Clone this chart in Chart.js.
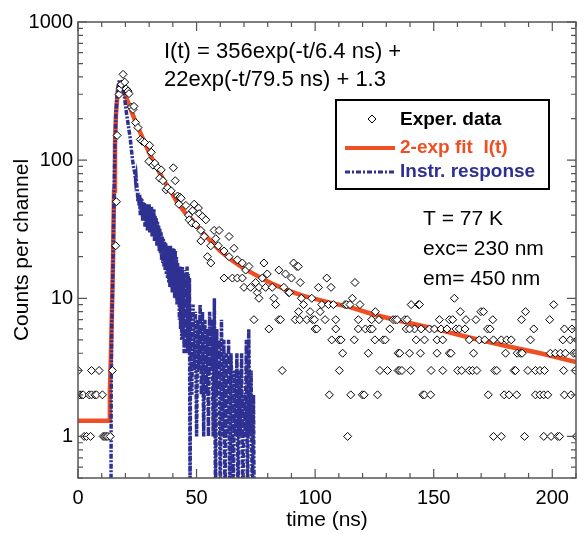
<!DOCTYPE html>
<html>
<head>
<meta charset="utf-8">
<script src="https://cdn.jsdelivr.net/npm/chart.js@4.4.1/dist/chart.umd.min.js"></script>
<style>
  body { margin: 0; background: #ffffff; }
  #wrap { width: 584px; height: 534px; }
</style>
</head>
<body>
<div id="wrap"><canvas id="decayChart" width="584" height="534"></canvas></div>
<script>
// Time-resolved luminescence decay, T = 77 K

// Experimental counts (time in ns, counts per channel)
const expTime = [
    0.1, 0.8, 1.6, 2.2, 2.6, 3.6, 4.7, 5.3, 5.7, 5.7, 7.1, 7.8, 8.9, 10.3, 10.6, 11.3, 11.9, 12.6, 13.6, 14.5,
    15.9, 16.2, 16.5, 17.3, 17.8, 18.3, 19, 19.7, 20.3, 21.1, 21.5, 22.5, 23.2, 23.6, 24.3, 25.3, 26.3, 27.1, 28.1,
    29.9, 30.2, 30.9, 31.6, 32.4, 33.7, 34.4, 35.1, 35.8, 37.1, 37.8, 39.3, 40.2, 41, 42, 42.5, 43, 43.5, 45.5,
    46.6, 46.9, 48, 48.3, 49, 49.7, 50.8, 51.1, 51.8,
    51.8, 52.5, 53.2, 53.9, 54.6, 56, 56, 57.4, 58.1, 59.2, 59.5, 61.6, 61.6, 63.7, 63.7, 65.1, 65.8, 67.2, 67.2,
    69.3, 69.3, 70, 70.7, 72.1, 72.8, 74.2, 74.9, 75.6, 76.3, 76.3, 77.7, 78.4, 79.1, 79.8, 80.5, 81.9, 82.6, 83.3,
    84.7, 84.7, 85.4, 86.1, 86.8, 87.5, 88.9,
    89.1, 90, 90.9, 91.6, 92.3, 92.9, 93, 93.5, 93.7, 94.2, 95.1, 96.5, 97.9, 98.6, 98.9, 99.7, 100, 100.7, 101.4,
    102.1, 102.8, 104.2, 104.9, 105.6, 106, 106.7, 107, 107.7, 108.7, 108.7, 110.1, 110.2, 110.9, 111.6, 112.6,
    113.3, 113.7, 114.7, 115, 115.7, 116.5, 116.8, 118.2, 118.2, 118.9, 119.9, 120.7, 121.2, 122.4, 123.1, 123.8,
    124.1, 125.2, 125.4, 126.3, 126.9, 127.3, 128.7, 129.6, 130.5, 131.5, 132.9, 133.8, 134.6, 135, 135, 135.7,
    135.7, 136.6, 137.8, 138.4, 138.8, 139.8, 140.3, 140.5, 141.9, 142.6, 143.6,
    158.7, 144, 200.6, 161.2, 169.9, 171, 188.7,
    152.4, 156.6, 158, 163.6, 167.8, 174.9, 187, 198.9,
    139.8, 144.7, 148.2, 150.3, 153.1, 155.6, 159.4, 160.8, 163.2, 172.7, 173.8, 192.2, 205.1, 208.3,
    146.1, 151.4, 153.8, 165, 169.2, 171.5, 175.2, 178.5, 180.8, 182.7, 190.8, 204.5, 207.6, 210.5,
    144.4, 151.4, 156.6, 157.3, 166.8, 180.3, 185.2, 186.6, 187.3, 199.2, 201.3, 203.4, 205.5, 209, 210,
    148.9, 153.8, 160.1, 161.8, 165, 166.4, 168.2, 175.7, 176.6, 183.9, 184.5, 189.7, 192.9, 194.8, 196.7, 204.8, 209.7,
    145.4, 146.1, 148.7, 173, 179.7, 181.8, 185, 192.9, 194.8, 196.4, 198.1, 205.1, 207.9,
    175.2, 178.5, 188.3, 196.4, 199.5, 202.3, 203.1, 210.1
];
const expCounts = [
    3, 2, 2, 2, 1, 1, 2, 1, 3, 2, 2, 2, 3, 2, 1, 1, 1, 1, 1, 3,
    24, 50, 151, 299, 330, 354, 418, 367, 328, 316, 303, 242, 233, 245, 187, 172, 141, 137, 134,
    98, 128, 114, 92, 95, 88, 74, 85, 71, 61, 63, 60, 88, 71, 55, 48, 54, 53, 47,
    40, 37, 35, 43, 48, 34, 45, 41, 31,
    26, 39, 28, 37, 20, 24, 18, 31, 27, 24, 31, 22, 14, 28, 20, 14, 23, 19, 14,
    18, 14, 12, 16, 17, 12, 7, 13, 11, 12, 10, 14, 18, 12, 15, 6, 12, 10, 9,
    16, 7, 7, 3, 12, 15, 11,
    11, 14, 18, 7, 17, 17, 8, 7, 13, 10, 9, 7, 8, 10, 7, 7, 6, 6, 12,
    8, 9, 7, 14, 9, 2, 12, 5, 9, 7, 6, 5, 3, 5, 4, 9,
    9, 1, 9, 2, 10, 5, 13, 7, 6, 9, 2, 2, 6, 4, 6, 7,
    6, 5, 8, 2, 7, 3, 5, 5, 3, 6, 7, 7, 7, 3, 4, 3,
    4, 3, 7, 6, 7, 4, 3, 9, 6, 5, 9,
    10, 9, 9, 8, 8, 8, 8,
    7, 7, 7, 7, 7, 7, 7, 7,
    6, 6, 6, 6, 6, 6, 6, 6, 6, 6, 6, 6, 6, 6,
    5, 5, 5, 5, 5, 5, 5, 5, 5, 5, 5, 5, 5, 5,
    4, 4, 4, 4, 4, 4, 4, 4, 4, 4, 4, 4, 4, 4, 4,
    3, 3, 3, 3, 3, 3, 3, 3, 3, 3, 3, 3, 3, 3, 3, 3, 3,
    2, 2, 2, 2, 2, 2, 2, 2, 2, 2, 2, 2, 2,
    1, 1, 1, 1, 1, 1, 1, 1
];

// 2-exponential fit curve
const fitTime = [0, 13.4, 13.45, 13.9, 14.3, 14.8, 15.2, 15.6, 16, 16.5, 17, 17.5, 18, 18.5, 19, 19.5, 20, 21,
    22, 23, 24, 25, 26, 28, 30, 33, 36, 39, 42, 45, 48, 51, 55, 60, 65, 70, 76, 82, 89, 95, 100, 107, 114,
    125, 135, 149, 165, 181, 195, 210];
const fitCounts = [1.3, 1.3, 2.1, 4, 8, 20, 60, 130, 210, 280, 330, 355, 362, 358, 340, 315, 295, 265,
    240, 215, 195, 178, 162, 135, 113, 90, 72, 60, 49, 42, 37, 32, 27, 22, 18.8, 16.4, 14.4, 12.7, 11.3, 10.4,
    9.9, 9.2, 8.7, 7.6, 6.9, 6.1, 5.2, 4.5, 4.0, 3.45];

// Instrument response (0.3 = empty channel, below the axis)
const irfTime = [13.9, 14, 14.2, 14.5, 14.8, 15.2, 15.6, 16, 16.5, 17, 17.5, 18, 18.5, 19, 19.5, 20, 20.5,
    21, 21.5, 22, 22.5, 23, 23.5,
    24, 24.25, 24.5, 24.75, 25, 25.25, 25.5, 25.75, 26, 26.25, 26.5, 26.75, 27, 27.25, 27.5, 27.75,
    28, 28.25, 28.5, 28.75, 29, 29.25, 29.5, 29.75, 30, 30.25, 30.5, 30.75, 31, 31.25, 31.5, 31.75,
    32, 32.25, 32.5, 32.75, 33, 33.25, 33.5, 33.75, 34, 34.25, 34.5, 34.75, 35, 35.25, 35.5, 35.75,
    36, 36.25, 36.5, 36.75, 37, 37.25, 37.5, 37.75, 38, 38.25, 38.5, 38.75, 39, 39.25, 39.5, 39.75,
    40, 40.25, 40.5, 40.75, 41, 41.25, 41.5, 41.75, 42, 42.25, 42.5, 42.75, 43, 43.25, 43.5, 43.75,
    44, 44.25, 44.5, 44.75, 45, 45.25, 45.5, 45.75, 46, 46.25, 46.5, 46.75, 47, 47.25,
    47.5, 48, 48.5, 49, 49.5, 50, 50.5, 51, 51.5, 52, 52.5, 53, 53.5, 54, 54.5, 55, 55.5, 56, 56.5, 57,
    57.5, 58, 58.5, 59, 59.5, 60, 60.5, 61, 61.5, 62, 62.5, 63, 63.5, 64, 64.5, 65, 65.5, 66, 66.5, 67,
    67.5, 68, 68.5, 69, 69.5, 70, 70.5, 71, 71.5, 72, 72.5, 73, 73.5, 74, 74.3];
const irfCounts = [0.3, 2, 6, 10, 20, 60, 130, 220, 300, 350, 380, 370, 355, 340, 300, 250, 215,
    190, 165, 145, 120, 100, 88,
    80, 72, 76, 66, 62, 50, 58, 47, 56, 40, 54, 42, 52, 36, 50, 38,
    49, 33, 47, 35, 48, 31, 46, 33, 48, 30, 44, 31, 46, 28, 42, 29,
    44, 26, 40, 27, 38, 24, 36, 25, 34, 22, 32, 21, 30, 19, 28, 18,
    27, 17, 26, 16, 25, 15, 24, 14, 24, 13, 23, 12, 24, 12, 22, 11,
    23, 11, 23, 10, 22, 10, 20, 9, 18, 9, 17, 7, 17, 6, 16, 5,
    17, 5, 15, 4, 16, 4, 14, 5, 17, 4, 15, 4, 14, 0.3,
    8, 2, 9, 3, 8, 1, 7, 3, 9, 2, 8, 1, 7, 2, 6, 1, 8, 3, 7, 1,
    10, 0.3, 6, 2, 5, 0.3, 7, 1, 5, 0.3, 4, 1, 5, 0.3, 4, 2, 0.3, 3, 1, 4,
    0.3, 3, 1, 4, 0.3, 2, 1, 5, 0.3, 6, 1, 3, 0.3, 2, 0.3];

// Tick labels
const xTickLabels = [0, 50, 100, 150, 200];
const yTickLabels = [1, 10, 100, 1000];

const ORANGE = '#f04e23';
const BLUE = '#2e3192';
const FONT = '"Liberation Sans", Arial, Helvetica, sans-serif';

function toPoints(xs, ys) {
    return xs.map((t, i) => ({ x: t, y: ys[i] }));
}

// Frame, inward ticks, legend box and annotations
const overlayPlugin = {
    id: 'overlay',
    afterDatasetsDraw(chart) {
        const { ctx, chartArea: a, scales: { x, y } } = chart;
        ctx.save();

        ctx.strokeStyle = '#555555';
        ctx.lineWidth = 1.5;
        ctx.strokeRect(a.left, a.top, a.right - a.left, a.bottom - a.top);

        ctx.lineWidth = 1.2;
        ctx.beginPath();
        for (let t = 0; t <= 210; t += 10) {
            const px = x.getPixelForValue(t);
            const len = t % 50 === 0 ? 9 : 5;
            ctx.moveTo(px, a.bottom); ctx.lineTo(px, a.bottom - len);
            ctx.moveTo(px, a.top); ctx.lineTo(px, a.top + len);
        }
        for (let e = -1; e <= 3; e++) {
            for (let m = 1; m <= 9; m++) {
                const v = m * Math.pow(10, e);
                if (v < 0.5 || v > 1000) continue;
                const py = y.getPixelForValue(v);
                const len = m === 1 ? 9 : 5;
                ctx.moveTo(a.left, py); ctx.lineTo(a.left + len, py);
                ctx.moveTo(a.right, py); ctx.lineTo(a.right - len, py);
            }
        }
        ctx.stroke();

        // legend
        ctx.fillStyle = '#ffffff';
        ctx.fillRect(336, 100, 213, 89);
        ctx.strokeStyle = '#000000';
        ctx.lineWidth = 2;
        ctx.strokeRect(336, 100, 213, 89);

        ctx.lineWidth = 1;
        ctx.beginPath();
        ctx.moveTo(368, 119); ctx.lineTo(372, 115); ctx.lineTo(376, 119); ctx.lineTo(372, 123); ctx.closePath();
        ctx.fillStyle = '#ffffff';
        ctx.fill();
        ctx.stroke();

        ctx.strokeStyle = ORANGE;
        ctx.lineWidth = 4;
        ctx.beginPath(); ctx.moveTo(345, 148); ctx.lineTo(395, 148); ctx.stroke();

        ctx.strokeStyle = BLUE;
        ctx.lineWidth = 3;
        ctx.setLineDash([5, 2, 2, 2]);
        ctx.beginPath(); ctx.moveTo(345, 172); ctx.lineTo(395, 172); ctx.stroke();
        ctx.setLineDash([]);

        ctx.font = 'bold 19px ' + FONT;
        ctx.textBaseline = 'middle';
        ctx.textAlign = 'left';
        ctx.fillStyle = '#000000';
        ctx.fillText('Exper. data', 400, 120);
        ctx.fillStyle = ORANGE;
        ctx.fillText('2-exp fit  I(t)', 400, 148);
        ctx.fillStyle = BLUE;
        ctx.fillText('Instr. response', 400, 172);

        // annotations
        ctx.fillStyle = '#000000';
        ctx.textBaseline = 'alphabetic';
        ctx.font = '22px ' + FONT;
        ctx.fillText('I(t) = 356exp(-t/6.4 ns) +', 164, 58);
        ctx.fillText('22exp(-t/79.5 ns) + 1.3', 164, 86);
        ctx.font = '21px ' + FONT;
        ctx.fillText('T = 77 K', 423, 225);
        ctx.fillText('exc= 230 nm', 423, 255);
        ctx.fillText('em= 450 nm', 423, 285);

        ctx.restore();
    }
};

document.addEventListener('DOMContentLoaded', function() {
    Chart.defaults.font.family = FONT;
    Chart.defaults.color = '#000000';

    new Chart(document.getElementById('decayChart'), {
        type: 'scatter',
        data: {
            datasets: [{
                label: 'Exper. data',
                data: toPoints(expTime, expCounts),
                pointStyle: 'rectRot',
                pointRadius: 4,
                pointBorderWidth: 1,
                pointBorderColor: '#000000',
                pointBackgroundColor: '#ffffff',
                showLine: false,
                order: 0
            }, {
                label: 'Instr. response',
                data: toPoints(irfTime, irfCounts),
                showLine: true,
                borderColor: BLUE,
                borderWidth: 3.5,
                borderDash: [5, 1.5, 2, 1.5],
                pointRadius: 0,
                tension: 0,
                order: 1
            }, {
                label: '2-exp fit  I(t)',
                data: toPoints(fitTime, fitCounts),
                showLine: true,
                borderColor: ORANGE,
                borderWidth: 4.5,
                pointRadius: 0,
                tension: 0,
                order: 2
            }]
        },
        options: {
            responsive: false,
            animation: false,
            layout: { padding: { top: 22, right: 2, left: 0, bottom: 0 } },
            plugins: {
                legend: { display: false },
                tooltip: { enabled: false }
            },
            scales: {
                x: {
                    type: 'linear',
                    min: 0,
                    max: 210,
                    afterFit: function(scale) { scale.height = 56; },
                    grid: { display: false, drawTicks: false },
                    border: { display: false },
                    ticks: {
                        stepSize: 10,
                        autoSkip: false,
                        maxRotation: 0,
                        padding: 8,
                        font: { size: 20 },
                        color: '#000000',
                        callback: function(value) {
                            return xTickLabels.includes(value) ? String(value) : '';
                        }
                    },
                    title: {
                        display: true,
                        text: 'time (ns)',
                        font: { size: 21 },
                        color: '#000000',
                        padding: { top: 0, bottom: 1 }
                    }
                },
                y: {
                    type: 'logarithmic',
                    min: 0.5,
                    max: 1000,
                    afterFit: function(scale) { scale.width = 78; },
                    grid: { display: false, drawTicks: false },
                    border: { display: false },
                    ticks: {
                        autoSkip: false,
                        padding: 5,
                        font: { size: 20 },
                        color: '#000000',
                        callback: function(value) {
                            return yTickLabels.includes(value) ? String(value) : '';
                        }
                    },
                    title: {
                        display: true,
                        text: 'Counts per channel',
                        font: { size: 21 },
                        color: '#000000',
                        padding: { top: 10, bottom: 0 }
                    }
                }
            }
        },
        plugins: [overlayPlugin]
    });
});
</script>
</body>
</html>
